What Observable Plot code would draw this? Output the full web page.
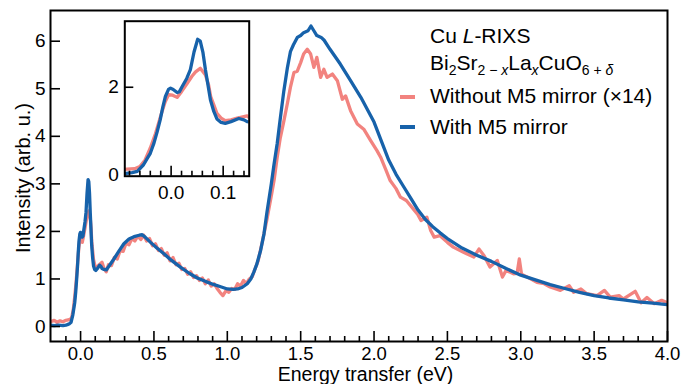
<!DOCTYPE html>
<html><head><meta charset="utf-8">
<script src="https://cdn.jsdelivr.net/npm/d3@7"></script>
<script src="https://cdn.jsdelivr.net/npm/@observablehq/plot@0.6"></script>
<style>
body{margin:0;background:#fff;}
#wrap{position:relative;width:698px;height:384px;font-family:"Liberation Sans",Arial,sans-serif;}
#wrap svg{position:absolute;}
.leg{position:absolute;left:430px;font-size:21px;line-height:21px;white-space:nowrap;color:#000;}
.leg sub{font-size:14px;vertical-align:baseline;position:relative;top:5px;}
.sw{position:absolute;left:400px;width:15px;height:4px;}
</style></head><body><div id="wrap"></div>
<script>
// With M5 mirror
const energyWith = [-0.205,-0.18,-0.15,-0.12,-0.1,-0.09,-0.075,-0.065,-0.053,-0.045,-0.04,-0.033,-0.027,-0.021,-0.016,-0.011,-0.005,-0.001,0.004,0.0115,0.016,0.021,0.03,0.037,0.044,0.051,0.056,0.061,0.066,0.0756,0.082,0.088,0.096,0.104,0.115,0.13,0.14,0.146,0.16,0.175,0.2,0.227,0.26,0.295,0.33,0.364,0.4,0.42,0.44,0.477,0.52,0.568,0.62,0.68,0.74,0.795,0.85,0.91,0.96,1.0,1.04,1.07,1.1,1.136,1.16,1.18,1.2,1.227,1.25,1.27,1.3,1.318,1.34,1.36,1.385,1.41,1.43,1.45,1.477,1.5,1.52,1.55,1.57,1.59,1.61,1.64,1.66,1.7,1.77,1.84,1.91,2.0,2.05,2.1,2.15,2.2,2.25,2.3,2.35,2.4,2.45,2.5,2.6,2.7,2.8,2.9,3.0,3.1,3.2,3.3,3.4,3.5,3.6,3.7,3.8,3.9,4.0];
const intensityWith = [0.03,0.02,0.03,0.02,0.03,0.04,0.06,0.09,0.24,0.4,0.5,0.73,0.98,1.26,1.55,1.79,1.95,1.98,1.95,1.88,1.9,2.01,2.2,2.4,2.8,3.09,3.05,2.8,2.39,1.71,1.45,1.28,1.2,1.18,1.22,1.29,1.26,1.22,1.2,1.19,1.3,1.42,1.58,1.74,1.84,1.89,1.92,1.93,1.88,1.77,1.65,1.53,1.39,1.25,1.12,1.02,0.95,0.88,0.83,0.79,0.78,0.79,0.82,0.9,1.0,1.14,1.3,1.6,1.95,2.4,3.0,3.4,3.85,4.35,4.95,5.45,5.78,5.92,6.08,6.12,6.18,6.22,6.32,6.22,6.12,6.08,6.02,5.83,5.52,5.17,4.82,4.3,3.9,3.5,3.2,2.95,2.7,2.45,2.25,2.1,1.97,1.85,1.65,1.5,1.37,1.22,1.08,0.98,0.88,0.8,0.72,0.65,0.6,0.56,0.52,0.49,0.46];
// Without M5 mirror (x14)
const energyWithout = [-0.205,-0.18,-0.16,-0.14,-0.12,-0.1,-0.085,-0.07,-0.06,-0.05,-0.04,-0.03,-0.02,-0.012,-0.005,0.003,0.0115,0.02,0.031,0.04,0.047,0.056,0.066,0.072,0.076,0.082,0.088,0.096,0.104,0.115,0.127,0.146,0.16,0.175,0.19,0.21,0.23,0.25,0.27,0.29,0.31,0.33,0.35,0.37,0.39,0.41,0.43,0.45,0.47,0.49,0.51,0.53,0.55,0.57,0.59,0.61,0.63,0.65,0.67,0.69,0.71,0.73,0.75,0.77,0.79,0.81,0.83,0.85,0.87,0.89,0.91,0.93,0.95,0.97,0.99,1.01,1.03,1.05,1.07,1.09,1.11,1.13,1.15,1.17,1.19,1.21,1.24,1.27,1.3,1.32,1.34,1.36,1.386,1.41,1.43,1.454,1.477,1.5,1.52,1.545,1.568,1.59,1.61,1.636,1.658,1.68,1.716,1.75,1.784,1.806,1.84,1.886,1.93,1.977,2.02,2.045,2.08,2.11,2.15,2.18,2.22,2.26,2.295,2.32,2.36,2.386,2.41,2.45,2.5,2.54,2.61,2.68,2.715,2.75,2.79,2.84,2.875,2.9,2.95,2.975,2.99,3.005,3.07,3.11,3.16,3.2,3.27,3.33,3.36,3.41,3.45,3.52,3.57,3.61,3.67,3.7,3.74,3.78,3.82,3.86,3.91,3.96,4.0];
const intensityWithout = [0.1,0.13,0.09,0.12,0.1,0.13,0.14,0.15,0.2,0.35,0.62,0.95,1.35,1.65,1.83,1.82,1.77,1.9,2.09,2.25,2.35,2.43,2.28,2.05,1.79,1.6,1.41,1.3,1.24,1.26,1.3,1.35,1.22,1.15,1.3,1.28,1.45,1.42,1.6,1.58,1.75,1.72,1.85,1.8,1.9,1.83,1.92,1.8,1.85,1.7,1.74,1.6,1.64,1.5,1.55,1.38,1.45,1.3,1.33,1.2,1.22,1.1,1.15,1.03,1.07,0.97,1.02,0.9,0.98,0.85,0.9,0.8,0.72,0.65,0.75,0.72,0.8,0.78,0.9,0.85,0.97,0.9,1.0,1.05,1.22,1.38,1.8,2.25,2.75,3.1,3.56,3.95,4.33,4.7,5.03,5.34,5.37,5.55,5.73,5.83,5.73,5.45,5.66,5.24,5.41,5.24,5.31,5.17,4.78,4.85,4.54,4.26,4.15,3.91,3.7,3.56,3.3,3.07,2.9,2.72,2.65,2.5,2.37,2.23,2.3,2.02,1.88,1.91,1.77,1.67,1.56,1.46,1.63,1.49,1.25,1.39,1.04,1.18,1.11,1.12,1.42,1.1,1.0,0.93,0.9,0.83,0.76,0.86,0.72,0.79,0.69,0.65,0.76,0.62,0.65,0.58,0.66,0.74,0.5,0.61,0.48,0.55,0.5];

const xMajorTicks = [0, 0.5, 1.0, 1.5, 2.0, 2.5, 3.0, 3.5, 4.0];
const xMinorTicks = [-0.1,0.1,0.2,0.3,0.4,0.6,0.7,0.8,0.9,1.1,1.2,1.3,1.4,1.6,1.7,1.8,1.9,2.1,2.2,2.3,2.4,2.6,2.7,2.8,2.9,3.1,3.2,3.3,3.4,3.6,3.7,3.8,3.9];
const yTicks = [0, 1, 2, 3, 4, 5, 6];
const insetXMajor = [0, 0.1];
const insetXMinor = [-0.08,-0.06,-0.04,-0.02,0.02,0.04,0.06,0.08,0.12,0.14];
const insetYTicks = [0, 2];
const xLabel = "Energy transfer (eV)";
const yLabel = "Intensity (arb. u.)";

const BLUE = "#1762aa", PINK = "#f2837f";
const dataWith = energyWith.map((e, k) => ({e, i: intensityWith[k]}));
const dataWithout = energyWithout.map((e, k) => ({e, i: intensityWithout[k]}));

const W = 698, H = 384, mt = 10, mr = 31, mb = 43, ml = 50;
const iH = H - mt - mb, iW = W - ml - mr;
const font = "'Liberation Sans', Arial, sans-serif";

const main = Plot.plot({
  width: W, height: H, marginTop: mt, marginRight: mr, marginBottom: mb, marginLeft: ml,
  style: {fontFamily: font, fontSize: "19px", color: "#000", background: "transparent", overflow: "visible"},
  x: {domain: [-0.205, 4.0]},
  y: {domain: [-0.315, 6.646]},
  marks: [
    Plot.line(dataWithout, {x: "e", y: "i", stroke: PINK, strokeWidth: 3.3, clip: true}),
    Plot.line(dataWith, {x: "e", y: "i", stroke: BLUE, strokeWidth: 3.3, clip: true}),
    Plot.tickX(xMajorTicks, {x: d => d, insetTop: iH - 10, stroke: "#000", strokeWidth: 1.6}),
    Plot.tickX(xMinorTicks, {x: d => d, insetTop: iH - 5, stroke: "#000", strokeWidth: 1.6}),
    Plot.tickY(yTicks, {y: d => d, insetRight: iW - 10, stroke: "#000", strokeWidth: 1.6}),
    Plot.axisX({ticks: xMajorTicks, tickSize: 0, tickPadding: 5, tickFormat: d3.format(".1f"), label: null, fontSize: 18.5}),
    Plot.axisY({ticks: yTicks, tickSize: 0, tickPadding: 5, tickFormat: d3.format("d"), label: null}),
    Plot.text([xLabel], {text: d => d, frameAnchor: "bottom", textAnchor: "middle", dy: 33.5, dx: 6.5, lineAnchor: "middle", fontSize: 19.5}),
    Plot.text([yLabel], {text: d => d, frameAnchor: "left", textAnchor: "middle", rotate: -90, dx: -27, dy: 2, lineAnchor: "middle", fontSize: 20}),
    Plot.frame({stroke: "#000", strokeWidth: 2})
  ]
});

const IW = 160, IH = 195, iml = 29.3, imr = 6.3, imt = 10.7, imb = 29.3;
const inset = Plot.plot({
  width: IW, height: IH, marginTop: imt, marginRight: imr, marginBottom: imb, marginLeft: iml,
  style: {fontFamily: font, fontSize: "19px", color: "#000", background: "transparent", overflow: "visible"},
  x: {domain: [-0.089, 0.15]},
  y: {domain: [-0.02, 3.5]},
  marks: [
    Plot.line(dataWithout, {x: "e", y: "i", stroke: PINK, strokeWidth: 3.3, clip: true}),
    Plot.line(dataWith, {x: "e", y: "i", stroke: BLUE, strokeWidth: 3.3, clip: true}),
    Plot.tickX(insetXMajor, {x: d => d, insetTop: (IH - imt - imb) - 10, stroke: "#000", strokeWidth: 1.6}),
    Plot.tickX(insetXMinor, {x: d => d, insetTop: (IH - imt - imb) - 5, stroke: "#000", strokeWidth: 1.6}),
    Plot.tickY([2], {y: d => d, insetRight: (IW - iml - imr) - 9, stroke: "#000", strokeWidth: 1.6}),
    Plot.axisX({ticks: insetXMajor, tickSize: 0, tickPadding: 9, tickFormat: d3.format(".1f"), label: null}),
    Plot.axisY({ticks: insetYTicks, tickSize: 0, tickPadding: 6, tickFormat: d3.format("d"), label: null}),
    Plot.frame({stroke: "#000", strokeWidth: 2})
  ]
});

const wrap = document.getElementById("wrap");
main.style.left = "0px"; main.style.top = "0px";
inset.style.left = "95px"; inset.style.top = "10px";
wrap.appendChild(main);
wrap.appendChild(inset);

const legendRows = [
  {html: "Cu <i>L</i>-RIXS", baseline: 43},
  {html: "Bi<sub>2</sub>Sr<sub>2 − <i>x</i></sub>La<sub><i>x</i></sub>CuO<sub>6 + <i>δ</i></sub>", baseline: 70},
  {html: "Without M5 mirror (×14)", baseline: 103, color: PINK, sw: 97},
  {html: "With M5 mirror", baseline: 134, color: BLUE, sw: 127}
];
for (const r of legendRows) {
  const d = document.createElement("div");
  d.className = "leg";
  d.style.top = (r.baseline - 18) + "px";
  d.innerHTML = r.html;
  wrap.appendChild(d);
  if (r.color) {
    const s = document.createElement("div");
    s.className = "sw";
    s.style.top = (r.sw - 2) + "px";
    s.style.background = r.color;
    wrap.appendChild(s);
  }
}
</script></body></html>
